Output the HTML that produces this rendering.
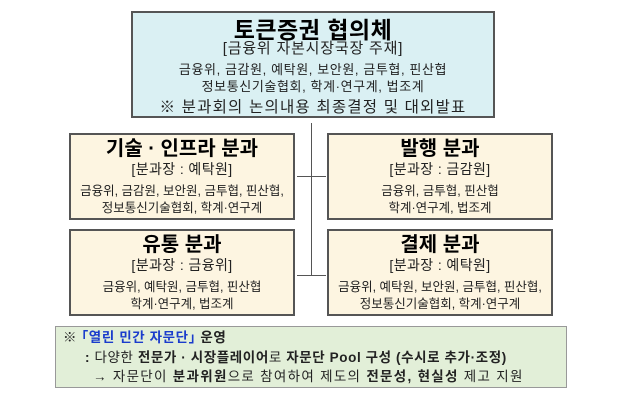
<!DOCTYPE html>
<html><head><meta charset="utf-8"><style>
body{margin:0;width:640px;height:401px;background:#fff;position:relative;overflow:hidden;font-family:"Liberation Sans","Noto Sans CJK KR",sans-serif;color:#222}
.b{position:absolute;box-sizing:border-box;text-align:center}
.top{left:131px;top:11px;width:364px;height:107px;background:#daf0f3;border:2px solid #555}
.sub{left:0;width:226px;height:87px;background:#fdf5e1;border:2px solid #555}
.t{font-weight:bold;color:#000}
.l{position:absolute;background:#555}
.p{position:absolute;left:0;right:0;text-align:center;white-space:nowrap}
</style></head><body>
<div class="b top">
<div class="p t" style="top:-2px;font-size:23px;letter-spacing:0.5px">토큰증권 협의체</div>
<div class="p" style="top:24px;font-size:15px;letter-spacing:0.8px">[금융위 자본시장국장 주재]</div>
<div class="p" style="top:48px;font-size:13px;line-height:17px;letter-spacing:0.6px">금융위, 금감원, 예탁원, 보안원, 금투협, 핀산협<br>정보통신기술협회, 학계·연구계, 법조계</div>
<div class="p" style="top:82px;font-size:15.5px;letter-spacing:1.2px">※ 분과회의 논의내용 최종결정 및 대외발표</div>
</div>
<div class="l" style="left:311px;top:123px;width:1px;height:153px"></div>
<div class="l" style="left:297px;top:176px;width:29px;height:1px"></div>
<div class="l" style="left:297px;top:275px;width:29px;height:1px"></div>

<div class="b sub" style="left:69px;top:133px">
<div class="p t" style="top:-3px;font-size:20px">기술 · 인프라 분과</div>
<div class="p" style="top:24px;font-size:14px;letter-spacing:0.4px">[분과장 : 예탁원]</div>
<div class="p" style="top:48px;font-size:12.5px;line-height:17px">금융위, 금감원, 보안원, 금투협, 핀산협,<br>정보통신기술협회, 학계·연구계</div>
</div>
<div class="b sub" style="left:327px;top:133px">
<div class="p t" style="top:-3px;font-size:20px">발행 분과</div>
<div class="p" style="top:24px;font-size:14px;letter-spacing:0.4px">[분과장 : 금감원]</div>
<div class="p" style="top:48px;font-size:12.5px;line-height:17px">금융위, 금투협, 핀산협<br>학계·연구계, 법조계</div>
</div>
<div class="b sub" style="left:69px;top:229px">
<div class="p t" style="top:-3px;font-size:20px">유통 분과</div>
<div class="p" style="top:24px;font-size:14px;letter-spacing:0.4px">[분과장 : 금융위]</div>
<div class="p" style="top:48px;font-size:12.5px;line-height:17px">금융위, 예탁원, 금투협, 핀산협<br>학계·연구계, 법조계</div>
</div>
<div class="b sub" style="left:327px;top:229px">
<div class="p t" style="top:-3px;font-size:20px">결제 분과</div>
<div class="p" style="top:24px;font-size:14px;letter-spacing:0.4px">[분과장 : 예탁원]</div>
<div class="p" style="top:48px;font-size:12.5px;line-height:17px">금융위, 예탁원, 보안원, 금투협, 핀산협,<br>정보통신기술협회, 학계·연구계</div>
</div>

<div class="b" style="left:55px;top:326px;width:512px;height:62px;background:#e2efd8;border:1.5px solid #999;text-align:left;font-size:13.5px;line-height:19.5px;padding:1px 0 0 7px;white-space:nowrap;letter-spacing:0.6px">
<div>※ <b style="color:#1a3ccc">｢열린 민간 자문단｣</b> <b>운영</b></div>
<div style="padding-left:22px"><b>:</b> 다양한 <b>전문가 · 시장플레이어</b>로 <b>자문단 Pool 구성 (수시로 추가·조정)</b></div>
<div style="padding-left:30px;letter-spacing:1.3px">→ 자문단이 <b>분과위원</b>으로 참여하여 제도의 <b>전문성, 현실성</b> 제고 지원</div>
</div>
</body></html>
